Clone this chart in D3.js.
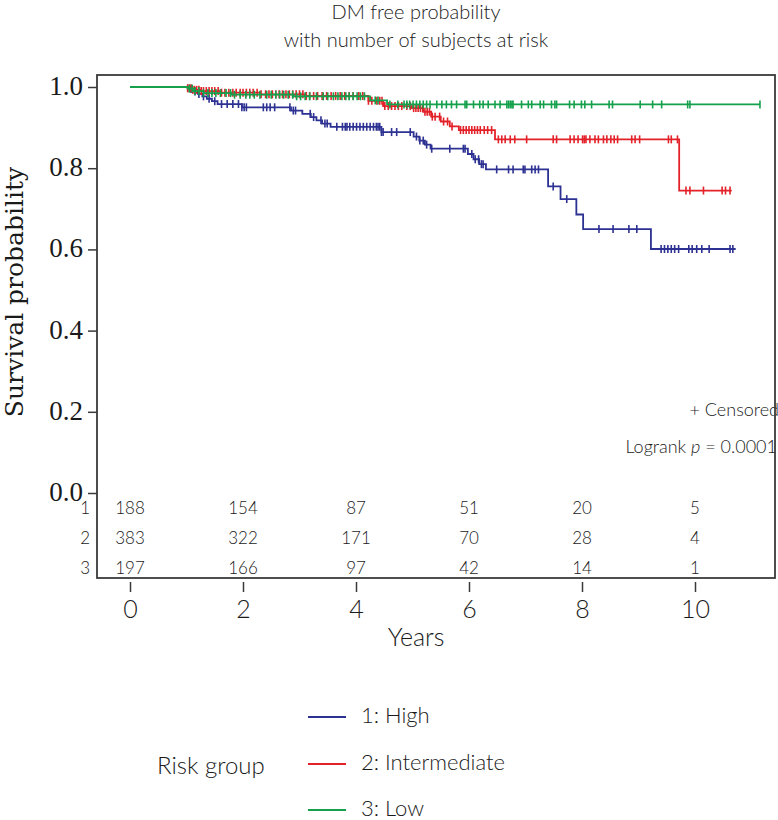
<!DOCTYPE html>
<html>
<head>
<meta charset="utf-8">
<script src="https://cdn.jsdelivr.net/npm/d3@7"></script>
<style>
  html, body { margin: 0; padding: 0; background: #fff; }
  svg { display: block; }
  .sans { font-family: Lato, "Open Sans", "DejaVu Sans", sans-serif; font-weight: 300; fill: #1a1a1a; }
</style>
</head>
<body>
<svg id="chart" width="778" height="820"></svg>
<script>
// ---------------- DATA ----------------
const groupLabels = ["1: High", "2: Intermediate", "3: Low"];
const groupIds = ["1", "2", "3"];

// Kaplan–Meier step points (years, survival)
const highTimes = [0, 1.05, 1.12, 1.2, 1.28, 1.36, 1.45, 1.55, 1.98, 2.85, 3.05, 3.2, 3.3, 3.4, 3.55, 4.45, 5.02, 5.12, 5.22, 5.32, 5.98, 6.08, 6.18, 6.3, 7.40, 7.62, 7.90, 8.02, 9.22];
const highSurv  = [1, 0.995, 0.989, 0.983, 0.977, 0.971, 0.965, 0.958, 0.950, 0.942, 0.934, 0.926, 0.918, 0.910, 0.902, 0.889, 0.878, 0.868, 0.858, 0.848, 0.835, 0.822, 0.810, 0.797, 0.755, 0.724, 0.686, 0.650, 0.601];
const highEnd = 10.72;
const highCensor = [1.08, 1.15, 1.22, 1.3, 1.4, 1.5, 1.62, 1.72, 1.82, 1.92, 1.98, 2.02, 2.06, 2.36, 2.42, 2.48, 2.56, 2.83, 2.89, 2.93, 3.19, 3.25, 3.38, 3.45, 3.49, 3.66, 3.76, 3.81, 3.84, 3.89, 3.95, 4.01, 4.07, 4.13, 4.19, 4.25, 4.31, 4.36, 4.39, 4.42, 4.45, 4.48, 4.63, 4.72, 4.96, 5.07, 5.13, 5.19, 5.25, 5.34, 5.66, 5.9, 5.93, 6.05, 6.11, 6.17, 6.22, 6.25, 6.49, 6.7, 6.78, 6.96, 6.99, 7.11, 7.17, 7.23, 7.49, 7.73, 8.30, 8.55, 8.83, 8.97, 9.40, 9.46, 9.52, 9.58, 9.64, 9.71, 9.89, 9.95, 10.03, 10.12, 10.25, 10.62, 10.67];

const intTimes = [0, 1.02, 1.1, 1.25, 1.6, 2.3, 3.1, 4.22, 4.48, 4.99, 5.19, 5.33, 5.5, 5.66, 5.82, 6.46, 9.72];
const intSurv  = [1, 0.997, 0.993, 0.990, 0.986, 0.982, 0.978, 0.966, 0.953, 0.948, 0.939, 0.927, 0.915, 0.903, 0.894, 0.871, 0.745];
const intEnd = 10.65;
const intCensor = [1.02, 1.05, 1.08, 1.11, 1.14, 1.18, 1.22, 1.26, 1.3, 1.35, 1.4, 1.45, 1.5, 1.56, 1.62, 1.68, 1.75, 1.82, 1.88, 1.95, 2.0, 2.06, 2.12, 2.18, 2.25, 2.32, 2.4, 2.46, 2.52, 2.58, 2.64, 2.7, 2.76, 2.82, 2.88, 2.94, 3.0, 3.06, 3.12, 3.18, 3.25, 3.32, 3.4, 3.48, 3.56, 3.64, 3.72, 3.8, 3.88, 3.95, 4.05, 4.12, 4.22, 4.28, 4.37, 4.42, 4.46, 4.51, 4.57, 4.63, 4.69, 4.75, 4.81, 4.9, 4.96, 5.02, 5.06, 5.1, 5.14, 5.18, 5.22, 5.26, 5.3, 5.35, 5.4, 5.48, 5.55, 5.62, 5.7, 5.85, 5.9, 5.95, 6.0, 6.05, 6.1, 6.15, 6.2, 6.27, 6.33, 6.4, 6.52, 6.58, 6.64, 6.73, 6.81, 7.02, 7.49, 7.55, 7.79, 7.86, 7.93, 8.01, 8.04, 8.07, 8.14, 8.23, 8.29, 8.38, 8.44, 8.51, 8.57, 8.63, 8.88, 8.94, 9.02, 9.53, 9.58, 9.69, 9.84, 9.91, 10.15, 10.48, 10.54, 10.62];

const lowTimes = [0, 1.02, 1.12, 1.3, 1.8, 2.9, 4.25, 4.55];
const lowSurv  = [1, 0.996, 0.990, 0.985, 0.981, 0.977, 0.967, 0.957];
const lowEnd = 11.15;
const lowCensor = [1.05, 1.1, 1.15, 1.22, 1.3, 1.38, 1.45, 1.52, 1.6, 1.7, 1.78, 1.85, 1.95, 2.05, 2.12, 2.2, 2.3, 2.42, 2.5, 2.58, 2.65, 2.72, 2.8, 2.88, 2.95, 3.02, 3.1, 3.18, 3.3, 3.42, 3.5, 3.6, 3.68, 3.75, 3.82, 3.88, 3.95, 4.02, 4.08, 4.15, 4.34, 4.39, 4.6, 4.74, 4.85, 4.9, 4.95, 5.01, 5.07, 5.13, 5.19, 5.25, 5.31, 5.43, 5.52, 5.6, 5.69, 5.78, 5.93, 5.96, 6.08, 6.19, 6.25, 6.34, 6.46, 6.55, 6.67, 6.7, 6.73, 6.76, 6.78, 6.93, 7.05, 7.11, 7.26, 7.32, 7.46, 7.52, 7.55, 7.78, 7.86, 7.99, 8.05, 8.17, 8.48, 8.54, 9.03, 9.25, 9.41, 9.87, 9.91, 11.15];

// number at risk
const riskTimes = [0, 2, 4, 6, 8, 10];
const riskHigh = [188, 154, 87, 51, 20, 5];
const riskInt  = [383, 322, 171, 70, 28, 4];
const riskLow  = [197, 166, 97, 42, 14, 1];

const yTicks = [0, 0.2, 0.4, 0.6, 0.8, 1.0];
const xTicks = [0, 2, 4, 6, 8, 10];

// ---------------- STYLE / LAYOUT ----------------
const colors = ["#2d3192", "#e32129", "#15a04c"];
const frame = {left: 97, right: 775, top: 75, bottom: 578};

const svg = d3.select("#chart");
const x = d3.scaleLinear().domain([0, 10]).range([130, 695]);
const y = d3.scaleLinear().domain([0, 1]).range([493, 87]);

// Title
svg.append("text").attr("class", "sans").attr("x", 416).attr("y", 19)
  .attr("text-anchor", "middle").attr("font-size", 20).text("DM free probability");
svg.append("text").attr("class", "sans").attr("x", 416).attr("y", 47)
  .attr("text-anchor", "middle").attr("font-size", 20).text("with number of subjects at risk");

// Curves
const groups = [
  {times: highTimes, surv: highSurv, end: highEnd, censor: highCensor},
  {times: intTimes, surv: intSurv, end: intEnd, censor: intCensor},
  {times: lowTimes, surv: lowSurv, end: lowEnd, censor: lowCensor}
];

function survAt(g, t) {
  let s = g.surv[0];
  for (let i = 0; i < g.times.length; i++) { if (g.times[i] <= t) s = g.surv[i]; }
  return s;
}

const line = d3.line().x(d => x(d[0])).y(d => y(d[1])).curve(d3.curveStepAfter);

groups.forEach((g, gi) => {
  const pts = g.times.map((t, i) => [t, g.surv[i]]);
  pts.push([g.end, g.surv[g.surv.length - 1]]);
  const layer = svg.append("g");
  layer.append("path").attr("d", line(pts)).attr("fill", "none")
    .attr("stroke", colors[gi]).attr("stroke-width", 1.8);
  layer.selectAll("line.c").data(g.censor).enter().append("line")
    .attr("x1", d => x(d)).attr("x2", d => x(d))
    .attr("y1", d => y(survAt(g, d)) - 4).attr("y2", d => y(survAt(g, d)) + 4)
    .attr("stroke", colors[gi]).attr("stroke-width", 1.6);
});

// Annotations
svg.append("text").attr("class", "sans").attr("x", 779).attr("y", 416)
  .attr("text-anchor", "end").attr("font-size", 18).text("+ Censored");
const lr = svg.append("text").attr("class", "sans").attr("x", 777).attr("y", 453)
  .attr("text-anchor", "end").attr("font-size", 18);
lr.append("tspan").text("Logrank ");
lr.append("tspan").attr("font-style", "italic").text("p");
lr.append("tspan").text(" = 0.0001");

// Frame
svg.append("rect").attr("x", frame.left).attr("y", frame.top)
  .attr("width", frame.right - frame.left).attr("height", frame.bottom - frame.top)
  .attr("fill", "none").attr("stroke", "#3a3a3a").attr("stroke-width", 1.8);

// Y axis
const yAxis = svg.append("g").attr("transform", `translate(${frame.left},0)`)
  .call(d3.axisLeft(y).tickValues(yTicks).tickFormat(d3.format(".1f")).tickSize(9).tickPadding(5));
yAxis.select(".domain").remove();
yAxis.selectAll(".tick line").attr("stroke", "#3a3a3a").attr("stroke-width", 1.5);
yAxis.selectAll(".tick text").attr("font-family", "'Liberation Serif', 'DejaVu Serif', serif")
  .attr("font-size", 27).attr("fill", "#1a1a1a").attr("dy", "0.28em");

svg.append("text")
  .attr("transform", "translate(23,292) rotate(-90)")
  .attr("text-anchor", "middle")
  .attr("font-family", "'DejaVu Serif', 'Liberation Serif', serif")
  .attr("font-size", 25).attr("fill", "#1a1a1a").text("Survival probability");

// X axis
const xAxis = svg.append("g").attr("transform", `translate(0,${frame.bottom + 4})`)
  .call(d3.axisBottom(x).tickValues(xTicks).tickFormat(d3.format("d")).tickSize(10).tickPadding(8));
xAxis.select(".domain").remove();
xAxis.selectAll(".tick line").attr("stroke", "#3a3a3a").attr("stroke-width", 1.5);
xAxis.selectAll(".tick text").attr("class", "sans").attr("font-size", 25).attr("fill", "#1a1a1a")
  .style("font-family", "Lato, 'Open Sans', sans-serif").style("font-weight", 300);

svg.append("text").attr("class", "sans").attr("x", 416).attr("y", 646)
  .attr("text-anchor", "middle").attr("font-size", 25).text("Years");

// Risk table
const riskRows = [riskHigh, riskInt, riskLow];
const rowY = [514, 544, 574];
riskRows.forEach((row, ri) => {
  svg.append("text").attr("class", "sans").attr("x", 90).attr("y", rowY[ri])
    .attr("text-anchor", "end").attr("font-size", 17).text(groupIds[ri]);
  svg.selectAll(null).data(row).enter().append("text").attr("class", "sans")
    .attr("x", (d, i) => x(riskTimes[i])).attr("y", rowY[ri])
    .attr("text-anchor", "middle").attr("font-size", 17).text(d => d);
});

// Legend
svg.append("text").attr("class", "sans").attr("x", 157).attr("y", 774)
  .attr("font-size", 24).text("Risk group");
const legY = [717, 764, 810];
groupLabels.forEach((lab, i) => {
  svg.append("line").attr("x1", 308).attr("x2", 346).attr("y1", legY[i]).attr("y2", legY[i])
    .attr("stroke", colors[i]).attr("stroke-width", 2.2);
  svg.append("text").attr("class", "sans").attr("x", 361).attr("y", legY[i] + 6)
    .attr("font-size", 22).text(lab);
});
</script>
</body>
</html>
